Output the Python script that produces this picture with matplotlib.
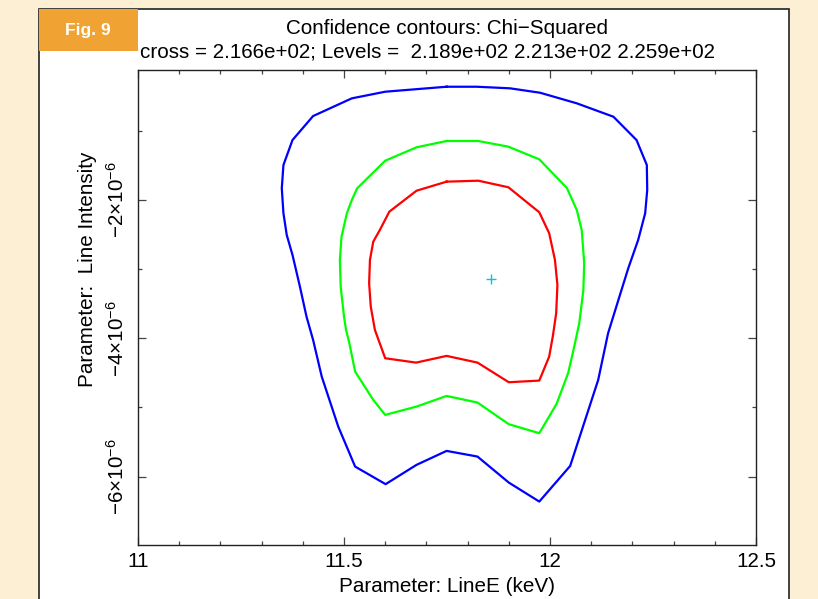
import numpy as np
import matplotlib
matplotlib.use("Agg")
import matplotlib.pyplot as plt
from matplotlib.patches import Rectangle
from matplotlib.ticker import MultipleLocator

plt.rcParams['font.family'] = ['Liberation Sans', 'DejaVu Sans']
plt.rcParams['mathtext.fontset'] = 'custom'
plt.rcParams['mathtext.rm'] = 'Liberation Sans'
plt.rcParams['mathtext.it'] = 'Liberation Sans:italic'

# ---- data (LineE in keV, Line Intensity in units of 1e-6) ----
blue_x = [11.749, 11.600, 11.519, 11.425, 11.375, 11.353, 11.349, 11.353, 11.361, 11.375,
          11.393, 11.409, 11.425, 11.446, 11.486, 11.527, 11.601, 11.676, 11.749, 11.824,
          11.900, 11.974, 12.049, 12.117, 12.141, 12.166, 12.190, 12.214, 12.231, 12.236,
          12.235, 12.210, 12.154, 12.065, 11.976, 11.903, 11.822, 11.749]
blue_y = [-0.362, -0.434, -0.530, -0.786, -1.133, -1.494, -1.831, -2.192, -2.506, -2.795,
          -3.253, -3.687, -4.024, -4.555, -5.277, -5.856, -6.110, -5.831, -5.629, -5.711,
          -6.087, -6.362, -5.846, -4.602, -3.927, -3.446, -2.987, -2.578, -2.192, -1.855,
          -1.494, -1.133, -0.796, -0.602, -0.449, -0.385, -0.362, -0.362]

green_x = [11.749, 11.676, 11.600, 11.532, 11.519, 11.507, 11.494, 11.490, 11.492, 11.500,
           11.505, 11.513, 11.527, 11.571, 11.600, 11.676, 11.749, 11.824, 11.900, 11.974,
           12.016, 12.044, 12.057, 12.071, 12.081, 12.083, 12.077, 12.065, 12.041, 11.974,
           11.899, 11.826, 11.749]
green_y = [-1.147, -1.238, -1.432, -1.831, -2.000, -2.192, -2.531, -2.867, -3.253, -3.687,
           -3.879, -4.072, -4.482, -4.891, -5.108, -4.988, -4.834, -4.930, -5.243, -5.373,
           -4.949, -4.505, -4.169, -3.783, -3.301, -2.915, -2.434, -2.145, -1.827, -1.412,
           -1.229, -1.147, -1.147]

red_x = [11.749, 11.676, 11.610, 11.587, 11.571, 11.563, 11.561, 11.565, 11.575, 11.600,
         11.675, 11.749, 11.824, 11.900, 11.974, 11.998, 12.007, 12.015, 12.018, 12.012,
         11.998, 11.974, 11.899, 11.826, 11.749]
red_y = [-1.735, -1.866, -2.169, -2.434, -2.603, -2.867, -3.204, -3.543, -3.879, -4.289,
         -4.352, -4.255, -4.352, -4.636, -4.612, -4.265, -3.966, -3.638, -3.229, -2.867,
         -2.481, -2.178, -1.816, -1.721, -1.735]

cross_x = 11.857
cross_y = -3.142

title1 = "Confidence contours: Chi\u2212Squared"
title2 = "cross = 2.166e+02; Levels =  2.189e+02 2.213e+02 2.259e+02"
xlabel = "Parameter: LineE (keV)"
ylabel = "Parameter:  Line Intensity"
xticks = [11, 11.5, 12, 12.5]
xticklabels = ["11", "11.5", "12", "12.5"]
yticks = [-6e-6, -4e-6, -2e-6]
yticklabels = [r"$-6{\times}10^{-6}$", r"$-4{\times}10^{-6}$", r"$-2{\times}10^{-6}$"]

W, H = 818, 599
FS = 14.9
fig = plt.figure(figsize=(W / 100, H / 100), dpi=100)
fig.patch.set_facecolor('#fcefd3')

# white panel
panel = Rectangle((39 / W, -0.05), (789 - 39) / W, 1.05 - 9 / H, transform=fig.transFigure,
                  facecolor='white', edgecolor='#222222', linewidth=1.2, zorder=-2)
fig.patches.append(panel)
badge = Rectangle((39 / W, 1 - 51 / H), (138 - 39) / W, (51 - 9) / H, transform=fig.transFigure,
                  facecolor='#f0a332', edgecolor='none', zorder=-1)
fig.patches.append(badge)
fig.text(88 / W, 1 - 30 / H, "Fig. 9", color='white', fontsize=12.5, fontweight='bold',
         ha='center', va='center')

ax = fig.add_axes([138 / W, 1 - 545 / H, (756 - 138) / W, (545 - 70) / H])
ax.set_facecolor('white')

s = 1e-6
ax.plot(blue_x, np.array(blue_y) * s, color='#0000ff', lw=1.6)
ax.plot(green_x, np.array(green_y) * s, color='#00ff00', lw=1.6)
ax.plot(red_x, np.array(red_y) * s, color='#ff0000', lw=1.6)
ax.plot([cross_x], [cross_y * s], marker='+', color='#00c8d8', markersize=7, mew=1.0)

ax.set_xlim(11, 12.5)
ax.set_ylim(-6.99e-6, -0.12e-6)
ax.set_xticks(xticks, labels=xticklabels)
ax.set_yticks(yticks, labels=yticklabels)
ax.xaxis.set_minor_locator(MultipleLocator(0.1))
ax.yaxis.set_minor_locator(MultipleLocator(1e-6))
ax.tick_params(which='both', direction='in', top=True, right=True, color='#444444', width=0.9)
ax.tick_params(which='major', length=6)
ax.tick_params(which='minor', length=3)
ax.tick_params(axis='x', labelsize=FS, pad=5)
ax.tick_params(axis='y', labelsize=FS, pad=7, labelrotation=90)
for lab in ax.get_yticklabels():
    lab.set_va('center')
for sp in ax.spines.values():
    sp.set_linewidth(1.0)
    sp.set_color('#222222')

ax.set_xlabel(xlabel, fontsize=FS, labelpad=4)
ax.set_ylabel(ylabel, fontsize=FS)
ax.yaxis.set_label_coords(-0.066, 0.58)

fig.text(447 / W, 1 - 28 / H, title1, fontsize=FS, ha='center', va='center')
fig.text(427.5 / W, 1 - 52 / H, title2, fontsize=FS, ha='center', va='center')

fig.savefig("out.png", dpi=100, facecolor=fig.get_facecolor())
